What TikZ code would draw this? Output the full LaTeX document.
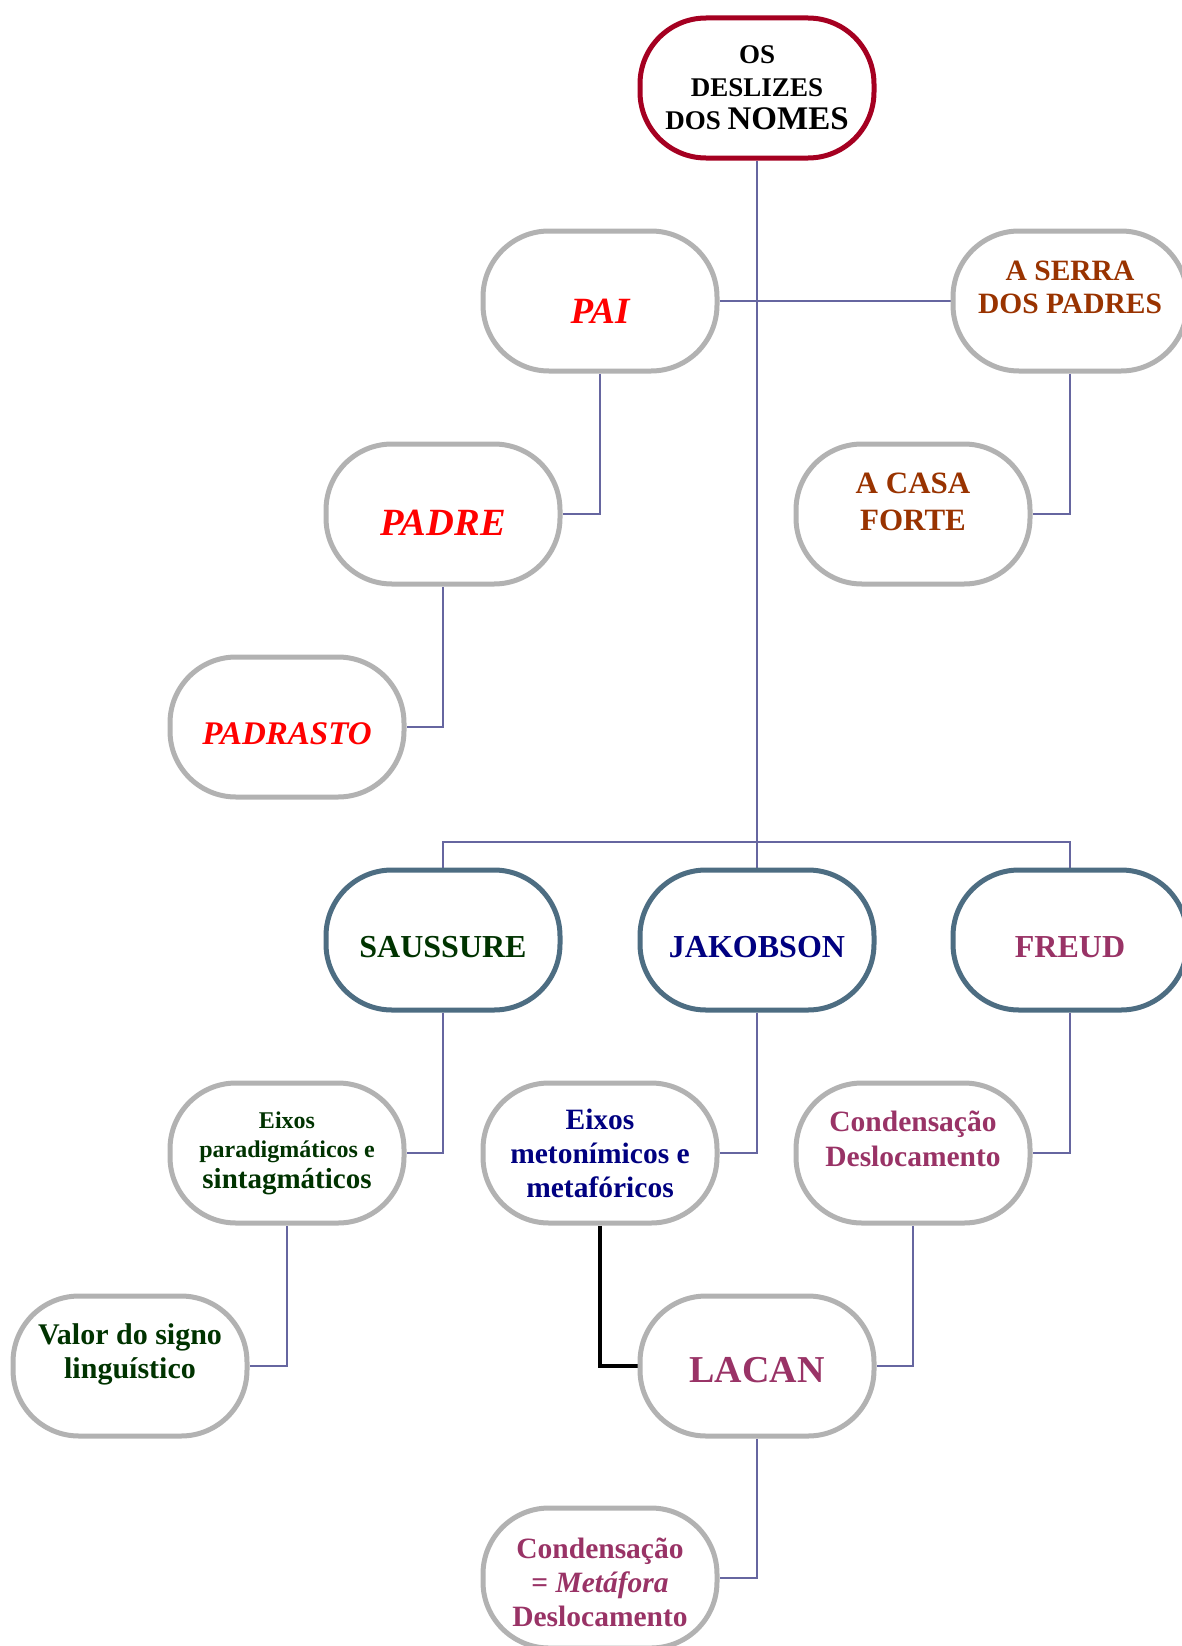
\documentclass[tikz,border=0pt]{standalone}
\usepackage{fontspec}
\setmainfont{Liberation Serif}
\usepackage{tikz}
\usetikzlibrary{backgrounds,positioning}

\definecolor{rootred}{HTML}{A50021}
\definecolor{boxgray}{HTML}{B2B2B2}
\definecolor{slate}{HTML}{4D6D82}
\definecolor{linkblue}{HTML}{6666A0}
\definecolor{brick}{HTML}{993300}
\definecolor{pine}{HTML}{003300}
\definecolor{navy}{HTML}{000080}
\definecolor{plum}{HTML}{993366}

\begin{document}
\begin{tikzpicture}[x=1pt,y=-1pt,
  box/.style={rectangle, rounded corners=66pt, draw=boxgray, line width=5pt,
    fill=white, minimum width=234pt, minimum height=140pt, inner sep=0pt,
    align=center, font=\bfseries},
  sz/.style 2 args={font=\bfseries\fontsize{#1}{#2}\selectfont},
  sink/.style={text height=#1, text depth=0pt},
  link/.style={draw=linkblue, line width=1.6pt}]
    \tikzstyle{author}=[box, draw=slate]

    \useasboundingbox (0,0) rectangle (1182,1646);

    \node[box,draw=rootred,sz={27}{33}]        (root) at (757,88)
      {OS\\DESLIZES\\DOS {\fontsize{33}{33}\selectfont NOMES}};

    \node[box,sz={37}{40},sink=44pt,text=red]  (pai) at (600,301) {\itshape PAI};
    \node[box,sz={29.5}{33},text=brick]        (serra) at (1070,301) {A SERRA\\DOS PADRES\\[-6pt]\mbox{}};
    \node[box,sz={38.5}{40},sink=42pt,text=red] (padre) at (443,514) {\itshape PADRE};
    \node[box,sz={31}{37},text=brick]          (casa) at (913,514) {A CASA\\FORTE\\[-12pt]\mbox{}};
    \node[box,sz={33}{36},sink=34pt,text=red]  (padrasto) at (287,727) {\itshape PADRASTO};

    \node[author,sz={32}{36},sink=35pt,text=pine]  (saussure) at (443,940) {SAUSSURE};
    \node[author,sz={32}{36},sink=35pt,text=navy]  (jakobson) at (757,940) {JAKOBSON};
    \node[author,sz={32}{36},sink=35pt,text=plum]  (freud) at (1070,940) {FREUD};

    \node[box,sz={24}{29},text=pine]  (eixosp) at (287,1153)
      {Eixos\\paradigmáticos e\\[2pt]{\fontsize{29}{31}\selectfont sintagmáticos}};
    \node[box,sz={29.5}{34},text=navy]  (eixosm) at (600,1153)
      {Eixos\\metonímicos e\\metafóricos};
    \node[box,sz={29.5}{35},text=plum]  (conden) at (913,1153)
      {Condensação\\Deslocamento\\[-6pt]\mbox{}};

    \node[box,sz={30}{34},text=pine]  (valor) at (130,1366)
      {Valor do signo\\linguístico\\[-4pt]\mbox{}};
    \node[box,sz={38}{40},sink=33pt,text=plum] (lacan) at (757,1366) {LACAN};

    \node[box,sz={29.5}{34},text=plum]  (metafora) at (600,1578)
      {\mbox{}\\[-4pt]Condensação\\= \textit{Metáfora}\\Deslocamento};

    \coordinate (bus) at (757,842);

    \begin{scope}[on background layer]
      \draw[link] (root) -- (jakobson);
      \draw[link] (pai) -- (serra);
      \draw[link] (saussure.north) -- (saussure.north |- bus) -- (freud.north |- bus) -- (freud.north);
      \draw[link] (pai.south) |- (padre.east);
      \draw[link] (padre.south) |- (padrasto.east);
      \draw[link] (serra.south) |- (casa.east);
      \draw[link] (saussure.south) |- (eixosp.east);
      \draw[link] (jakobson.south) |- (eixosm.east);
      \draw[link] (freud.south) |- (conden.east);
      \draw[link] (eixosp.south) |- (valor.east);
      \draw[link] (conden.south) |- (lacan.east);
      \draw[link] (lacan.south) |- (metafora.east);
      \draw[line width=4.2pt] (eixosm.south) |- (lacan.west);
    \end{scope}

\end{tikzpicture}
\end{document}
